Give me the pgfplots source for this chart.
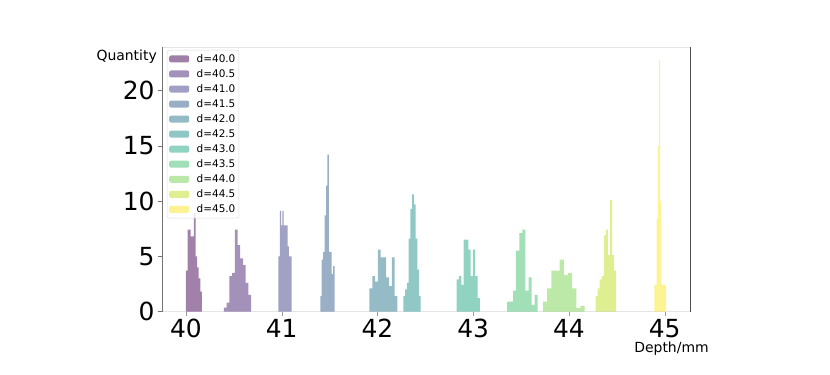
\documentclass[border=0pt]{standalone}
\usepackage{fontspec}
\setmainfont{DejaVu Sans}
\usepackage{pgfplots}
\pgfplotsset{compat=1.18}

% viridis, 11 samples
\definecolor{v0}{HTML}{440154}
\definecolor{v1}{HTML}{482475}
\definecolor{v2}{HTML}{414487}
\definecolor{v3}{HTML}{355F8D}
\definecolor{v4}{HTML}{2A788E}
\definecolor{v5}{HTML}{21918C}
\definecolor{v6}{HTML}{22A884}
\definecolor{v7}{HTML}{44BF70}
\definecolor{v8}{HTML}{7AD151}
\definecolor{v9}{HTML}{BDDF26}
\definecolor{v10}{HTML}{FDE725}

\pgfplotsset{
  hst/.style={ybar interval, draw=none, fill=#1, fill opacity=0.5,
    legend image code/.code={\fill[##1] (0bp,-3.5bp) rectangle (20bp,3.5bp);
      \path (26bp,0bp);}},
}

\begin{document}
\begin{tikzpicture}[x=1bp,y=1bp]
\useasboundingbox (0,0) rectangle (830,374);
\begin{axis}[
  at={(162bp,62.5bp)}, anchor=south west,
  scale only axis, width=528bp, height=264.5bp,
  xmin=39.75, xmax=45.265, ymin=0, ymax=23.94,
  clip mode=individual,
  xtick={40,41,42,43,44,45}, ytick={0,5,10,15,20},
  /pgf/number format/assume math mode=true,
  tick label style={font=\fontsize{25}{25}\selectfont},
  xtick pos=bottom, ytick pos=left, tick align=outside,
  major tick length=4bp,
  separate axis lines,
  x axis line style={draw=black!10},
  y axis line style={draw=black!55},
  xtick style={draw=black!40},
  ytick style={draw=black!55},
  legend cell align=left,
  legend style={at={(rel axis cs:0,1)}, anchor=north west, xshift=5bp, yshift=-3bp,
    font=\fontsize{10.5}{12}\selectfont, draw=black!15, fill=white, fill opacity=0.8,
    text opacity=1, rounded corners=2bp, inner xsep=2bp, inner ysep=2.5bp,
    row sep=2.6bp, nodes={inner sep=1.5bp}},
]
\addplot[hst=v0] coordinates {(40.000,3.7) (40.017,7.4) (40.033,7.4) (40.050,6.8) (40.067,6.8) (40.083,8.9) (40.100,5.0) (40.117,4.0) (40.133,3.0) (40.150,1.8) (40.167,1.8)};
\addlegendentry{d=40.0}
\addplot[hst=v1] coordinates {(40.396,0.35) (40.425,0.8) (40.453,3.2) (40.482,3.5) (40.510,7.4) (40.539,6.0) (40.567,4.8) (40.596,4.2) (40.624,2.6) (40.653,1.5) (40.681,1.5)};
\addlegendentry{d=40.5}
\addplot[hst=v2] coordinates {(40.966,5.0) (40.980,9.1) (40.994,7.8) (41.007,9.1) (41.021,7.8) (41.035,7.8) (41.049,7.8) (41.062,5.9) (41.076,5.0) (41.090,5.0) (41.104,5.0)};
\addlegendentry{d=41.0}
\addplot[hst=v3] coordinates {(41.403,1.4) (41.418,4.7) (41.433,5.4) (41.448,8.7) (41.463,11.4) (41.478,14.2) (41.492,5.4) (41.507,5.4) (41.522,3.4) (41.537,4.1) (41.552,4.1)};
\addlegendentry{d=41.5}
\addplot[hst=v4] coordinates {(41.917,2.1) (41.946,3.2) (41.975,2.7) (42.004,5.6) (42.033,4.9) (42.063,4.9) (42.092,3.1) (42.121,2.3) (42.150,4.9) (42.179,1.4) (42.208,1.4)};
\addlegendentry{d=42.0}
\addplot[hst=v5] coordinates {(42.271,1.4) (42.289,2.0) (42.307,2.6) (42.325,6.6) (42.343,9.3) (42.362,10.6) (42.380,9.7) (42.398,6.6) (42.416,3.8) (42.434,1.4) (42.452,1.4)};
\addlegendentry{d=42.5}
\addplot[hst=v6] coordinates {(42.827,2.9) (42.851,3.2) (42.876,2.4) (42.900,6.5) (42.924,6.5) (42.949,5.6) (42.973,3.2) (42.997,5.6) (43.021,3.2) (43.046,1.2) (43.070,1.2)};
\addlegendentry{d=43.0}
\addplot[hst=v7] coordinates {(43.354,0.9) (43.386,0.9) (43.418,1.9) (43.450,5.5) (43.482,7.1) (43.514,7.4) (43.546,1.9) (43.578,3.1) (43.610,0.6) (43.642,1.5) (43.674,1.5)};
\addlegendentry{d=43.5}
\addplot[hst=v8] coordinates {(43.729,0.9) (43.773,2.1) (43.816,3.7) (43.860,3.7) (43.903,4.7) (43.947,3.3) (43.990,3.5) (44.034,2.1) (44.077,0.3) (44.121,0.5) (44.164,0.5)};
\addlegendentry{d=44.0}
\addplot[hst=v9] coordinates {(44.278,1.4) (44.300,2.1) (44.321,2.9) (44.343,3.2) (44.364,6.9) (44.386,7.4) (44.408,5.1) (44.429,10.1) (44.451,5.1) (44.472,3.7) (44.494,3.7)};
\addlegendentry{d=44.5}
\addplot[hst=v10] coordinates {(44.893,2.4) (44.905,2.4) (44.917,8.4) (44.930,15.0) (44.942,22.8) (44.954,10.0) (44.966,2.4) (44.978,2.4) (44.991,2.4) (45.003,2.4) (45.015,2.4)};
\addlegendentry{d=45.0}
\draw[black!70] (rel axis cs:1,0) -- (rel axis cs:1,1);
\node[anchor=north east, inner sep=0pt, font=\fontsize{14}{14}\selectfont] at (rel axis cs:0,1) [xshift=-5bp, yshift=-3bp] {Quantity};
\node[anchor=north, inner sep=0pt, font=\fontsize{14}{14}\selectfont] at (rel axis cs:0.965,0) [yshift=-30bp] {Depth/mm};
\end{axis}
\end{tikzpicture}
\end{document}
